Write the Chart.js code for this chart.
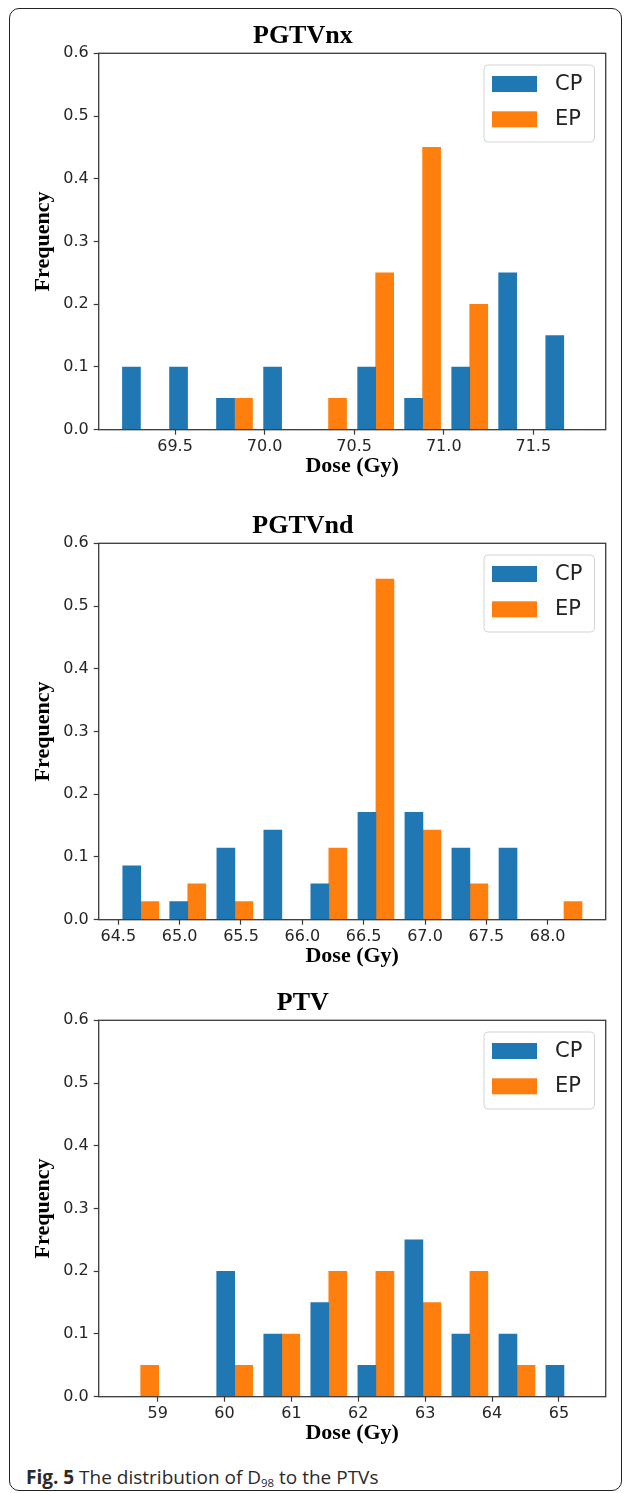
<!DOCTYPE html>
<html>
<head>
<meta charset="utf-8">
<script src="https://cdn.jsdelivr.net/npm/chart.js@4"></script>
<style>
  html, body { margin: 0; padding: 0; background: #fff; }
  body { width: 627px; height: 1493px; position: relative; overflow: hidden; }
  .panel { position: absolute; left: 0; width: 627px; height: 482px; }
  .frame {
    position: absolute; left: 9px; top: 8px; width: 613px; height: 1483px;
    box-sizing: border-box; border: 1.5px solid #222; border-radius: 10px;
  }
  .caption {
    position: absolute; left: 26px; top: 1465px; line-height: 24px;
    font-family: "Open Sans", "Noto Sans", sans-serif; font-size: 19px; color: #2a2a2a;
    white-space: nowrap;
  }
  .caption b { font-weight: 700; }
  .caption sub { font-size: 0.6em; vertical-align: -0.25em; }
</style>
</head>
<body>
<div class="frame"></div>
<div class="panel" style="top:0px"><canvas id="chartNx"></canvas></div>
<div class="panel" style="top:490px"><canvas id="chartNd"></canvas></div>
<div class="panel" style="top:967px"><canvas id="chartPtv"></canvas></div>
<div class="caption"><b>Fig. 5</b> The distribution of D<sub>98</sub> to the PTVs</div>

<script>
// --- PGTVnx: bin centres (Gy) and frequencies ---
const nxBins = [69.307, 69.570, 69.832, 70.095, 70.357, 70.620, 70.882, 71.145, 71.407, 71.670];
const nxCP   = [0.10, 0.10, 0.05, 0.10, 0.00, 0.10, 0.05, 0.10, 0.25, 0.15];
const nxEP   = [0.00, 0.00, 0.05, 0.00, 0.05, 0.25, 0.45, 0.20, 0.00, 0.00];

// --- PGTVnd ---
const ndBins = [64.683, 65.066, 65.450, 65.833, 66.216, 66.600, 66.983, 67.366, 67.750, 68.133];
const ndCP   = [0.086, 0.029, 0.114, 0.143, 0.057, 0.171, 0.171, 0.114, 0.114, 0.000];
const ndEP   = [0.029, 0.057, 0.029, 0.000, 0.114, 0.543, 0.143, 0.057, 0.000, 0.029];

// --- PTV ---
const ptvBins = [58.746, 59.449, 60.152, 60.856, 61.559, 62.263, 62.966, 63.669, 64.373, 65.076];
const ptvCP   = [0.00, 0.00, 0.20, 0.10, 0.15, 0.05, 0.25, 0.10, 0.10, 0.05];
const ptvEP   = [0.05, 0.00, 0.05, 0.10, 0.20, 0.20, 0.15, 0.20, 0.05, 0.00];

const seriesNames = ['CP', 'EP'];
const yTicks = [0, 0.1, 0.2, 0.3, 0.4, 0.5, 0.6];

const COLORS = ['#1f77b4', '#ff7f0e'];
const SPINE = '#3a3a3a';

Chart.defaults.font.family = '"DejaVu Sans", sans-serif';
Chart.defaults.color = '#262626';

// axes frame on all four sides, like matplotlib
const framePlugin = {
  id: 'frame',
  afterDatasetsDraw(chart) {
    const a = chart.chartArea, ctx = chart.ctx;
    ctx.save();
    ctx.strokeStyle = SPINE;
    ctx.lineWidth = 1.3;
    ctx.strokeRect(a.left, a.top, a.right - a.left, a.bottom - a.top);
    ctx.restore();
  }
};

// legend box inside the upper right corner of the plot
const boxLegend = {
  id: 'boxLegend',
  afterDraw(chart) {
    const {ctx, chartArea: a} = chart;
    const w = 110.5, h = 77;
    const x = a.right - 121.7, y = a.top + 11.7;
    ctx.save();
    ctx.fillStyle = 'rgba(255,255,255,0.85)';
    ctx.strokeStyle = '#d4d4d4';
    ctx.lineWidth = 1;
    ctx.beginPath();
    ctx.roundRect(x, y, w, h, 4);
    ctx.fill();
    ctx.stroke();
    ctx.font = '21px "DejaVu Sans", sans-serif';
    ctx.textBaseline = 'middle';
    chart.data.datasets.forEach((ds, i) => {
      const ry = y + 11 + i * 35.3;
      ctx.fillStyle = ds.backgroundColor;
      ctx.fillRect(x + 8, ry, 45, 16);
      ctx.fillStyle = '#222';
      ctx.fillText(ds.label, x + 71, ry + 8.5);
    });
    ctx.restore();
  }
};

function makeHist(id, title, bins, cp, ep, xMin, xMax, step, decimals) {
  const series = [cp, ep];
  new Chart(document.getElementById(id), {
    type: 'bar',
    data: {
      datasets: series.map((vals, s) => ({
        label: seriesNames[s],
        data: bins.map((b, i) => ({ x: b, y: vals[i] })),
        backgroundColor: COLORS[s],
        borderWidth: 0,
        barThickness: 18
      }))
    },
    options: {
      responsive: true,
      maintainAspectRatio: false,
      animation: false,
      layout: { padding: { left: 0, right: 21.3, top: 0, bottom: 0 } },
      plugins: {
        legend: { display: false },
        tooltip: { enabled: false },
        title: {
          display: true,
          text: title,
          color: '#000',
          font: { family: '"Liberation Serif", "Times New Roman", serif', size: 26, weight: 'bold' },
          padding: { top: 21, bottom: 1.1 }
        }
      },
      scales: {
        x: {
          type: 'linear',
          min: xMin,
          max: xMax,
          offset: false,
          afterFit: s => { s.height = 52.3; },
          border: { display: false },
          grid: { display: true, offset: false, drawOnChartArea: false, drawTicks: true, tickLength: 5, tickColor: SPINE, tickWidth: 1.2 },
          ticks: {
            stepSize: step,
            includeBounds: false,
            padding: 3,
            font: { size: 16 },
            maxRotation: 0,
            callback: v => v.toFixed(decimals)
          },
          title: {
            display: true,
            text: 'Dose (Gy)',
            color: '#000',
            font: { family: '"Liberation Serif", "Times New Roman", serif', size: 22, weight: 'bold' },
            padding: { top: 0, bottom: 2 }
          }
        },
        y: {
          min: yTicks[0],
          max: yTicks[yTicks.length - 1],
          afterFit: s => { s.width = 98.7; },
          afterBuildTicks: s => { s.ticks = yTicks.map(v => ({ value: v })); },
          border: { display: false },
          grid: { display: true, drawOnChartArea: false, drawTicks: true, tickLength: 5, tickColor: SPINE, tickWidth: 1.2 },
          ticks: {
            padding: 5,
            font: { size: 16 },
            callback: v => v.toFixed(1)
          },
          title: {
            display: true,
            text: 'Frequency',
            color: '#000',
            font: { family: '"Liberation Serif", "Times New Roman", serif', size: 22, weight: 'bold' },
            padding: { top: 30, bottom: 0 }
          }
        }
      }
    },
    plugins: [framePlugin, boxLegend]
  });
}

makeHist('chartNx', 'PGTVnx', nxBins, nxCP, nxEP, 69.074, 71.904, 0.5, 1);
makeHist('chartNd', 'PGTVnd', ndBins, ndCP, ndEP, 64.340, 68.473, 0.5, 1);
makeHist('chartPtv', 'PTV', ptvBins, ptvCP, ptvEP, 58.118, 65.700, 1, 0);
</script>
</body>
</html>
